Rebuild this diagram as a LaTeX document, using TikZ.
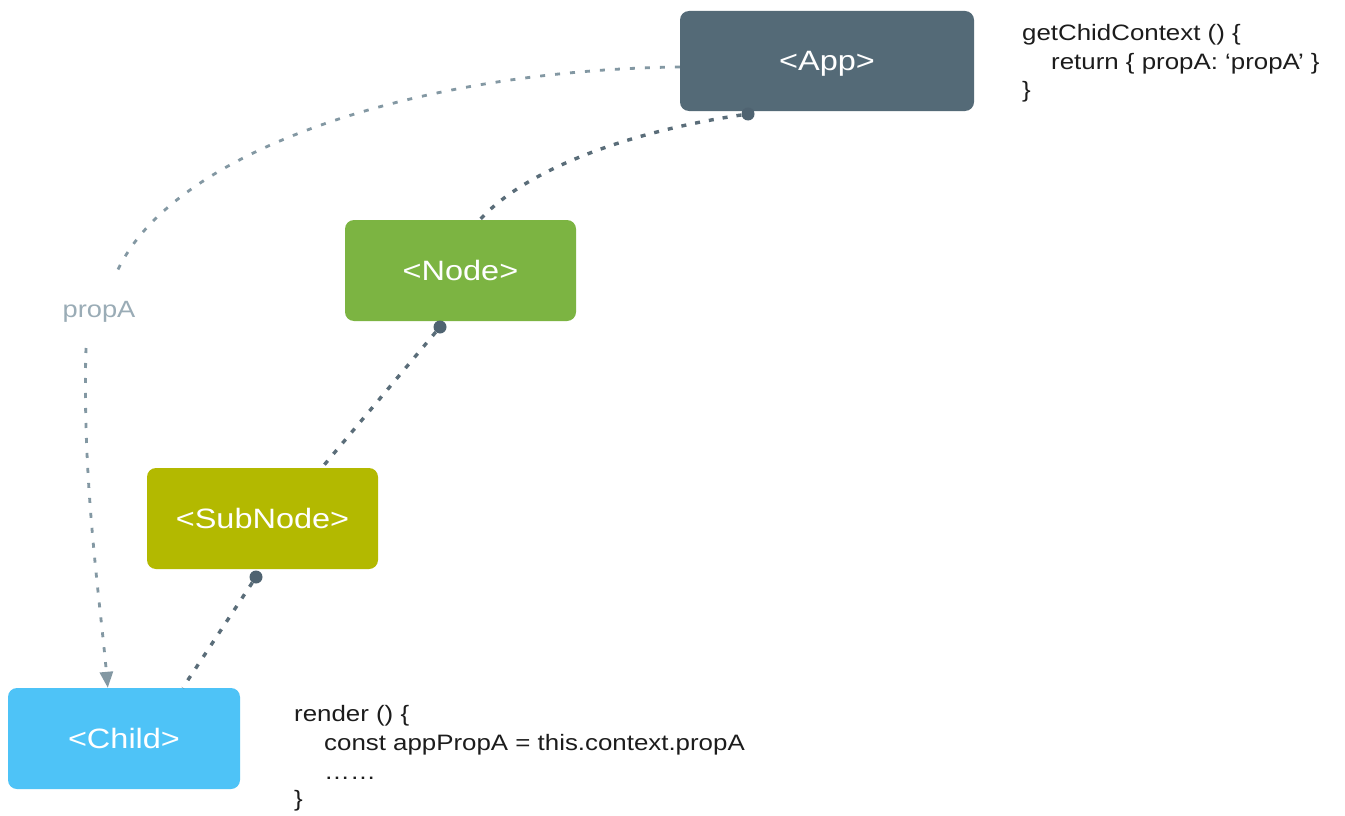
\documentclass[tikz,border=0pt]{standalone}
\usepackage{fontspec}
\setmainfont{Liberation Sans}[FakeStretch=1.16]
\usetikzlibrary{arrows.meta}
\definecolor{appc}{HTML}{546A77}
\definecolor{nodec}{HTML}{7CB442}
\definecolor{subc}{HTML}{B3B900}
\definecolor{childc}{HTML}{4EC3F7}
\definecolor{linec}{HTML}{5A6D79}
\definecolor{propc}{HTML}{8398A3}
\definecolor{proptext}{HTML}{9AACB6}
\definecolor{dotc}{HTML}{4F6371}
\definecolor{codec}{HTML}{1C1C1C}
\begin{document}
\begin{tikzpicture}[x=1pt,y=-1pt,
  box/.style={rounded corners=9pt, minimum height=101pt, inner sep=0pt,
    text=white, text height=20pt, text depth=0pt, font=\fontsize{28}{32}\selectfont},
  dotn/.style={circle, fill=dotc, inner sep=0pt, minimum size=13pt},
  conn/.style={draw=linec, line width=3.4pt, dash pattern=on 5pt off 9pt},
  pconn/.style={draw=propc, line width=2.8pt, dash pattern=on 5pt off 10pt},
  code/.style={anchor=base west, inner sep=0pt, text=codec,
    font=\fontsize{22.3}{26}\selectfont}]
\useasboundingbox (0,0) rectangle (1345,816);
\fill[white] (0,0) rectangle (1345,816);

\node[box, fill=appc, minimum width=294pt, minimum height=100pt] (App) at (827,61) {<App>};
\node[box, fill=nodec, minimum width=231pt] (Node) at (460.5,270.5) {<Node>};
\node[box, fill=subc, minimum width=231pt] (Sub) at (262.5,518.5) {<SubNode>};
\node[box, fill=childc, minimum width=232pt] (Child) at (124,738.5) {<Child>};

\node[dotn] (d1) at (748,114) {};
\node[dotn] (d2) at (440,327) {};
\node[dotn] (d3) at (256,577) {};

\draw[conn] (d1) .. controls (640,130) and (530,165) .. ([xshift=135pt]Node.north west);
\draw[conn] (d2) -- ([xshift=175pt]Sub.north west);
\draw[conn] (d3) -- ([xshift=175pt]Child.north west);

\node[anchor=base, inner sep=0pt, text=proptext, font=\fontsize{23.5}{26}\selectfont] (pl) at (99,317) {propA};
\coordinate (pa) at (116,274);
\coordinate (pb) at (86,348);
\draw[pconn] ([yshift=-6pt]App.west) .. controls (420,70) and (170,150) .. (pa);
\draw[pconn, -{Triangle[length=16pt,width=13pt,fill=propc]}] (pb) .. controls (82,480) and (100,600) .. ([xshift=100pt]Child.north west);

\node[code] (c1) at (1022,41) {getChidContext () \{};
\node[code] (c2) at (1051,69.5) {return \{ propA: ‘propA’ \}};
\node[code] (c3) at (1022,98) {\}};
\node[code] (r1) at (294,721) {render () \{};
\node[code] (r2) at (324,750) {const appPropA = this.context.propA};
\node[code] (r3) at (324,779) {……};
\node[code] (r4) at (294,806) {\}};
\end{tikzpicture}
\end{document}
